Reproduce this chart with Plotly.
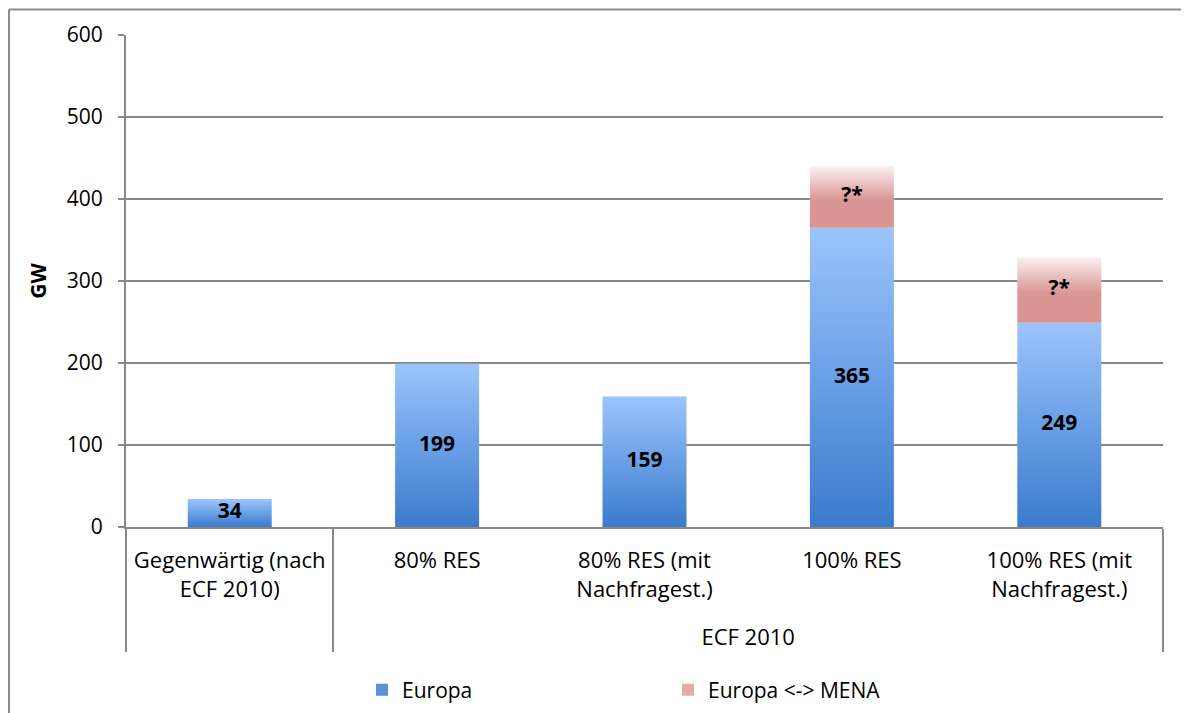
import plotly.graph_objects as go

# ---- data ----
groups = [" ", "ECF 2010", "ECF 2010", "ECF 2010", "ECF 2010"]
categories = ["Gegenwärtig (nach<br>ECF 2010)", "80% RES", "80% RES (mit<br>Nachfragest.)",
              "100% RES", "100% RES (mit<br>Nachfragest.)"]
europa = [34, 199, 159, 365, 249]
mena = [None, None, None, 75, 80]          # Europa <-> MENA (unknown size, labelled "?*")
mena_labels = ["", "", "", "?*", "?*"]
series_names = ["Europa", "Europa <-> MENA"]
y_ticks = [0, 100, 200, 300, 400, 500, 600]

FONT = "Open Sans"
GRAY = "#888888"
BLUE_SCALE = [[0, "#3b7acb"], [0.5, "#6aa0e6"], [1, "#9cc4fb"]]
RED_SCALE = [[0, "#d99492"], [0.45, "#d99594"], [1, "#fbf1f1"]]
BAR_W = 0.405
# invisible spacer line under the inner labels, pushes the group labels down
SPACER = '<br><span style="color:rgba(0,0,0,0)">.</span>'
cat_labels = [c + SPACER if "<br>" in c else c for c in categories]

fig = go.Figure()

# category axis carrier (invisible bars on the multicategory axis)
fig.add_trace(go.Bar(x=[groups, cat_labels], y=europa, marker=dict(color="rgba(0,0,0,0)", line=dict(width=0)),
                     showlegend=False, hoverinfo="skip", xaxis="x", yaxis="y"))

# gradient-filled bars drawn on an overlaid numeric axis
for i, v in enumerate(europa):
    x0, x1 = i - BAR_W / 2, i + BAR_W / 2
    fig.add_trace(go.Scatter(
        x=[x0, x1, x1, x0, x0], y=[0, 0, v, v, 0], mode="lines", fill="toself",
        line=dict(width=0, color="rgba(0,0,0,0)"),
        fillgradient=dict(type="vertical", colorscale=BLUE_SCALE),
        showlegend=False, hoverinfo="skip", xaxis="x2", yaxis="y"))
    if mena[i]:
        top = v + mena[i]
        fig.add_trace(go.Scatter(
            x=[x0, x1, x1, x0, x0], y=[v, v, top, top, v], mode="lines", fill="toself",
            line=dict(width=0, color="rgba(0,0,0,0)"),
            fillgradient=dict(type="vertical", colorscale=RED_SCALE),
            showlegend=False, hoverinfo="skip", xaxis="x2", yaxis="y"))

# value labels
fig.add_trace(go.Scatter(
    x=list(range(len(europa))), y=[v / 2 for v in europa], mode="text",
    text=[str(v) for v in europa], textfont=dict(family=FONT, size=21, color="black", weight="bold"),
    showlegend=False, hoverinfo="skip", xaxis="x2", yaxis="y"))
mx = [i for i, m in enumerate(mena) if m]
fig.add_trace(go.Scatter(
    x=mx, y=[europa[i] + mena[i] / 2 for i in mx], mode="text",
    text=[mena_labels[i] for i in mx], textfont=dict(family=FONT, size=21, color="black", weight="bold"),
    showlegend=False, hoverinfo="skip", xaxis="x2", yaxis="y"))

# legend entries
fig.add_trace(go.Bar(x=[groups, cat_labels], y=[None] * 5, name=series_names[0],
                     marker=dict(color="#5a90dc", line=dict(width=0)), xaxis="x", yaxis="y"))
fig.add_trace(go.Bar(x=[groups, cat_labels], y=[None] * 5, name=series_names[1],
                     marker=dict(color="#e2a9a8", line=dict(width=0)), xaxis="x", yaxis="y"))

# the page body adds an 8px offset; figure is sized so the plot lands where the reference has it
OFF = 8
W, H = 1189 - OFF, 713 - OFF
L, R, T, B = 126 - OFF, 26, 35 - OFF, 186
pw, ph = W - L - R, H - T - B
def px_x(p):  # screen px -> paper x
    return (p - OFF - L) / pw
def px_y(p):  # screen px -> paper y
    return (H - B - (p - OFF)) / ph

fig.update_layout(
    width=W, height=H,
    margin=dict(l=L, r=R, t=T, b=B, autoexpand=False),
    paper_bgcolor="white", plot_bgcolor="white",
    barmode="overlay",
    font=dict(family=FONT, size=21, color="black"),
    xaxis=dict(type="multicategory", range=[-0.5, 4.5], showline=True, linecolor=GRAY, linewidth=2,
               showdividers=True, dividercolor=GRAY, dividerwidth=2, ticks="", automargin=False,
               ticklabelstandoff=13,
               tickfont=dict(family=FONT, size=22, color="black"), showgrid=False, zeroline=False),
    xaxis2=dict(overlaying="x", range=[-0.5, 4.5], visible=False),
    yaxis=dict(range=[0, 600], tickvals=y_ticks, showgrid=True, gridcolor=GRAY, gridwidth=2,
               showline=True, linecolor=GRAY, linewidth=2, ticks="outside", ticklen=6, tickwidth=2,
               tickcolor=GRAY, zeroline=False, ticklabelstandoff=11, automargin=False,
               tickfont=dict(family=FONT, size=21, color="black"),
               title=dict(text="<b>GW</b>", font=dict(family=FONT, size=21, color="black"), standoff=14)),
    legend=dict(orientation="h", x=px_x(362), xanchor="left", y=px_y(690), yanchor="middle",
                entrywidth=261, entrywidthmode="pixels", font=dict(family=FONT, size=21, color="black"),
                bgcolor="rgba(0,0,0,0)", traceorder="normal"),
    shapes=[
        dict(type="line", xref="paper", yref="paper", x0=px_x(9), x1=px_x(1200), y0=px_y(9.5), y1=px_y(9.5),
             line=dict(color="#8c8c8c", width=2)),
        dict(type="line", xref="paper", yref="paper", x0=px_x(9), x1=px_x(9), y0=px_y(9.5), y1=px_y(720),
             line=dict(color="#8c8c8c", width=2)),
    ],
)

fig.write_html("out.html")
